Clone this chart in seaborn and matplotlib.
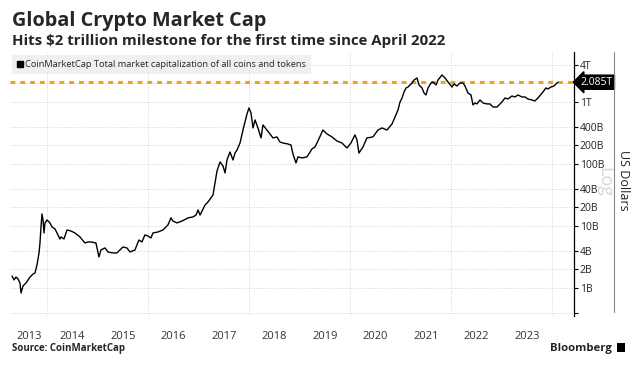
import numpy as np
import pandas as pd
import matplotlib
matplotlib.use("Agg")
import matplotlib.pyplot as plt
from matplotlib.lines import Line2D
from matplotlib.patches import Rectangle
from matplotlib.ticker import FixedLocator, NullLocator
import seaborn as sns

# decimal year and total crypto market cap (US$ bn)
years = [
    2013.307, 2013.347, 2013.386, 2013.426, 2013.465, 2013.485, 2013.525, 2013.584,
    2013.663, 2013.723, 2013.762, 2013.802, 2013.842, 2013.861, 2013.881, 2013.901,
    2013.921, 2013.941, 2013.960, 2014.000, 2014.059, 2014.099, 2014.158, 2014.198,
    2014.257, 2014.277, 2014.337, 2014.396, 2014.475, 2014.554, 2014.653, 2014.752,
    2014.812, 2014.871, 2014.970, 2015.030, 2015.069, 2015.148, 2015.208, 2015.307,
    2015.386, 2015.505, 2015.584, 2015.644, 2015.743, 2015.822, 2015.881, 2015.940,
    2016.000, 2016.059, 2016.099, 2016.198, 2016.297, 2016.396, 2016.455, 2016.495,
    2016.574, 2016.673, 2016.792, 2016.891, 2016.950, 2016.990, 2017.030, 2017.129,
    2017.188, 2017.287, 2017.327, 2017.366, 2017.426, 2017.485, 2017.525, 2017.564,
    2017.624, 2017.683, 2017.723, 2017.762, 2017.822, 2017.881, 2017.921, 2017.960,
    2018.000, 2018.040, 2018.079, 2018.119, 2018.178, 2018.238, 2018.277, 2018.356,
    2018.416, 2018.475, 2018.554, 2018.614, 2018.673, 2018.772, 2018.832, 2018.871,
    2018.931, 2018.970, 2019.050, 2019.149, 2019.248, 2019.307, 2019.366, 2019.465,
    2019.545, 2019.644, 2019.743, 2019.842, 2019.941, 2020.020, 2020.099, 2020.139,
    2020.178, 2020.257, 2020.337, 2020.455, 2020.554, 2020.634, 2020.733, 2020.832,
    2020.891, 2020.950, 2020.990, 2021.030, 2021.069, 2021.109, 2021.149, 2021.228,
    2021.267, 2021.327, 2021.366, 2021.426, 2021.465, 2021.505, 2021.545, 2021.604,
    2021.644, 2021.703, 2021.743, 2021.822, 2021.881, 2021.941, 2022.020, 2022.059,
    2022.119, 2022.178, 2022.238, 2022.277, 2022.337, 2022.396, 2022.436, 2022.475,
    2022.515, 2022.574, 2022.634, 2022.713, 2022.772, 2022.832, 2022.911, 2022.950,
    2023.010, 2023.069, 2023.129, 2023.208, 2023.267, 2023.327, 2023.406, 2023.465,
    2023.525, 2023.604, 2023.663, 2023.723, 2023.822, 2023.881, 2023.921, 2023.980,
    2024.040, 2024.079, 2024.119,
]
cap_bn = [
    1.56, 1.35, 1.50, 1.40, 1.20, 0.83, 1.08, 1.20,
    1.50, 1.68, 1.75, 2.35, 3.67, 5.32, 9.64, 15.6,
    12.5, 7.71, 11.2, 12.5, 11.2, 9.64, 8.95, 7.71,
    6.17, 6.65, 6.17, 8.61, 8.30, 7.71, 6.65, 5.32,
    5.52, 5.52, 5.32, 3.16, 4.10, 4.42, 3.81, 3.67,
    3.67, 4.58, 4.42, 3.81, 4.10, 5.94, 5.52, 7.16,
    6.90, 6.40, 7.71, 8.00, 8.61, 10.4, 13.5, 12.0,
    11.2, 12.0, 13.5, 14.0, 15.0, 18.1, 15.0, 21.8,
    24.4, 31.6, 49.4, 77.1, 108, 92.9, 71.6, 116,
    156, 116, 150, 168, 218, 353, 476, 640,
    800, 665, 381, 513, 381, 263, 426, 353,
    305, 263, 273, 226, 218, 210, 202, 145,
    104, 130, 125, 130, 175, 188, 235, 353,
    305, 273, 235, 218, 181, 218, 294, 244,
    150, 188, 263, 273, 353, 381, 353, 442,
    573, 743, 1000, 1160, 1450, 1682, 1746, 2024,
    2264, 2438, 1880, 1682, 1397, 1297, 1682, 2024,
    2101, 1880, 2264, 2725, 2438, 2101, 1746, 1950,
    1811, 2024, 2024, 1811, 1397, 1297, 895, 964,
    930, 1077, 964, 930, 930, 830, 830, 895,
    1000, 1160, 1117, 1250, 1205, 1297, 1205, 1205,
    1117, 1077, 1038, 1160, 1450, 1682, 1621, 1746,
    1811, 1950, 2085,
]
milestone_bn = 2085

year_label_pos = [2013.64] + [y + 0.5 for y in range(2014, 2024)]
year_labels = [str(y) for y in range(2013, 2024)]
grid_years = [2014, 2016, 2018, 2020, 2022, 2024]

ytick_vals = [0.4, 1, 2, 4, 10, 20, 40, 100, 200, 400, 1000, 2000, 4000]
ytick_labels = ["", "1B", "2B", "4B", "10B", "20B", "40B", "100B", "200B",
                "400B", "1T", "", "4T"]


def to_date(t):
    y = int(np.floor(t))
    start = pd.Timestamp(year=y, month=1, day=1)
    end = pd.Timestamp(year=y + 1, month=1, day=1)
    return start + (end - start) * (t - y)


df = pd.DataFrame({"date": [to_date(t) for t in years],
                   "cap": np.array(cap_bn) * 1e9})

sns.set_style("white")
plt.rcParams["font.family"] = ["Open Sans", "DejaVu Sans"]

W, H = 638, 367
fig = plt.figure(figsize=(W / 100, H / 100), dpi=100)
ax = fig.add_axes([10 / W, 1 - 316 / H, 564 / W, 264 / H])

ax.axhline(milestone_bn * 1e9, color="#F5A21B", lw=2.2, dashes=(1.6, 1.6), zorder=1.5)
sns.lineplot(data=df, x="date", y="cap", color="black", lw=1.0, ax=ax, zorder=3)

ax.set_yscale("log")
ax.set_ylim(0.353e9, 6.4e12)
ax.set_xlim(to_date(2013.267), to_date(2024.436))
ax.set_xlabel("")
ax.set_ylabel("")

# y axis on the right
ax.yaxis.tick_right()
ax.yaxis.set_major_locator(FixedLocator([v * 1e9 for v in ytick_vals]))
ax.yaxis.set_minor_locator(NullLocator())
ax.set_yticklabels(ytick_labels)
ax.tick_params(axis="y", which="major", direction="out", length=3, width=0.8,
               color="black", labelsize=7.5, pad=1, labelcolor="#222222")

# x: grid every two years, year labels centred in each year
ax.set_xticks([to_date(y) for y in grid_years])
ax.set_xticklabels([])
ax.set_xticks([to_date(t) for t in year_label_pos], minor=True)
ax.set_xticklabels(year_labels, minor=True)
ax.tick_params(axis="x", which="both", length=0, labelsize=8, pad=11,
               labelcolor="#333333")

ax.grid(True, which="major", axis="both", color="#d4d4d4", ls=(0, (1, 1.5)), lw=0.7)
for s in ["left", "top", "bottom"]:
    ax.spines[s].set_visible(False)
ax.spines["right"].set_color("black")
ax.spines["right"].set_linewidth(0.9)

# legend
handle = Line2D([], [], marker="s", color="black", ls="none", markersize=5)
leg = ax.legend([handle], ["CoinMarketCap Total market capitalization of all coins and tokens"],
                loc="upper left", bbox_to_anchor=(0.003, 0.99), fontsize=6.7,
                frameon=True, fancybox=False, handlelength=0.6, handletextpad=0.3,
                borderpad=0.55, borderaxespad=0)
leg.get_frame().set_facecolor("#ededed")
leg.get_frame().set_edgecolor("none")
leg.set_zorder(5)

# value tag for latest reading
ax.text(1.012, milestone_bn * 1e9, "2.085T", transform=ax.get_yaxis_transform(),
        ha="left", va="center", color="white", fontsize=7.5,
        bbox=dict(boxstyle="larrow,pad=0.15", fc="black", ec="black"))

# right-hand panel
fig.add_artist(Line2D([614 / W, 614 / W], [1 - 52 / H, 1 - 312 / H],
                      color="#888888", lw=0.8))
fig.text(604 / W, 1 - 182 / H, "Log", rotation=270, color="#d6d6d6",
         fontsize=13, ha="center", va="center", zorder=0)
fig.text(623 / W, 1 - 180 / H, "US Dollars", rotation=270, color="#222222",
         fontsize=9, ha="center", va="center")

# titles and footer
fig.text(12 / W, 1 - 21 / H, "Global Crypto Market Cap", fontsize=14.3,
         fontweight="bold", va="center", ha="left")
fig.text(12 / W, 1 - 41 / H,
         "Hits $2 trillion milestone for the first time since April 2022",
         fontsize=10.8, fontweight="bold", va="center", ha="left")
fig.text(12 / W, 1 - 349 / H, "Source: CoinMarketCap", fontsize=7,
         fontweight="bold", va="center", ha="left")
fig.text(612 / W, 1 - 348 / H, "Bloomberg", fontsize=8.2,
         fontweight="bold", va="center", ha="right")
fig.add_artist(Rectangle((617 / W, 1 - 352 / H), 8 / W, 9 / H,
                         facecolor="black", edgecolor="none",
                         transform=fig.transFigure))

fig.savefig("out.png", dpi=100)
